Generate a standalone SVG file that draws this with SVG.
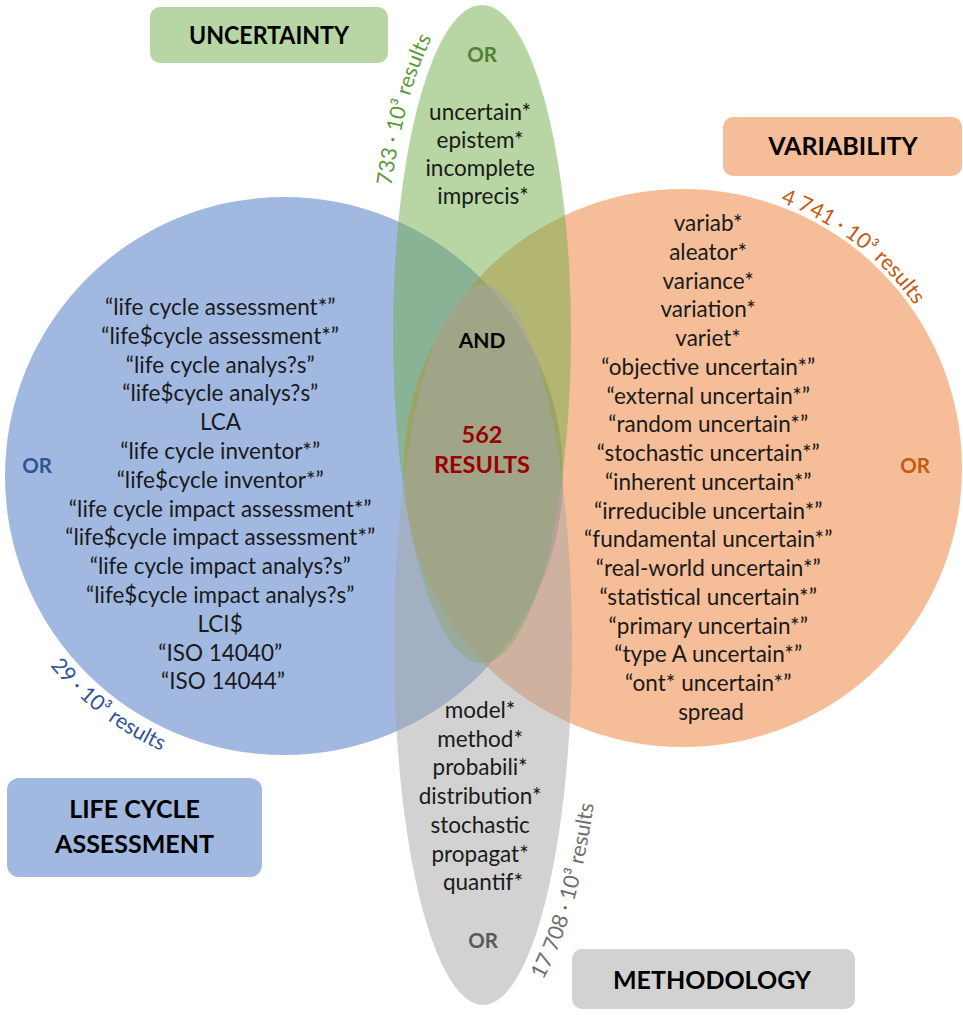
<svg xmlns="http://www.w3.org/2000/svg" xmlns:xlink="http://www.w3.org/1999/xlink" width="963" height="1017" viewBox="0 0 963 1017">
  <style>
    text { font-family: Lato, "Liberation Sans", sans-serif; }
    .set { fill-opacity: 0.5; }
    .blue { fill: #4472C4; }
    .orange { fill: #ED7D31; }
    .green { fill: #70AD47; }
    .grey { fill: #A5A5A5; }
    .title { font-weight: 700; font-size: 25px; text-anchor: middle; fill: #000; }
    .terms { font-size: 22.5px; text-anchor: middle; fill: #1a1a1a; }
    .or { font-weight: 700; font-size: 20.5px; text-anchor: middle; }
    .count { font-size: 21.5px; }
    .hit { font-weight: 700; font-size: 23.5px; text-anchor: middle; }
  </style>
  <defs>
    <!-- baselines for the result counts, following each set outline -->
    <path id="arc-lca" d="M 1.1 578.9 A 301 301 0 0 0 257.8 775.9"/>
    <path id="arc-var" d="M 732.1 189.3 A 283 283 0 0 1 939.5 348.4"/>
    <path id="arc-unc" d="M 391.4 186 A 101 342 0 0 1 482 -8"/>
    <path id="arc-met" d="M 543 980 A 122 388 0 0 0 605 645"/>
  </defs>

  <!-- sets -->
  <g id="set-lca"><circle class="set blue" cx="284" cy="476" r="279"/></g>
  <g id="set-variability"><circle class="set orange" cx="683" cy="468" r="279"/></g>
  <g id="set-uncertainty"><ellipse class="set green" cx="482" cy="334" rx="89" ry="329"/></g>
  <g id="set-methodology"><ellipse class="set grey" cx="483" cy="645" rx="89" ry="360"/></g>

  <!-- title boxes -->
  <g id="title-uncertainty">
    <rect class="set green" x="150" y="7" width="238" height="56" rx="10"/>
    <text class="title" x="269" y="44" textLength="160" lengthAdjust="spacingAndGlyphs">UNCERTAINTY</text>
  </g>
  <g id="title-variability">
    <rect class="set orange" x="723" y="117" width="239" height="59" rx="10"/>
    <text class="title" x="843" y="155">VARIABILITY</text>
  </g>
  <g id="title-lca">
    <rect class="set blue" x="7" y="778" width="255" height="99" rx="12"/>
    <text class="title" x="134.5" y="818">LIFE CYCLE</text>
    <text class="title" x="134.5" y="853">ASSESSMENT</text>
  </g>
  <g id="title-methodology">
    <rect class="set grey" x="572" y="949" width="283" height="60" rx="10"/>
    <text class="title" x="712" y="989">METHODOLOGY</text>
  </g>

  <!-- search terms -->
  <g id="terms-lca">
    <text class="or" x="37" y="473" fill="#2F5597">OR</text>
    <text class="terms">
      <tspan x="223" y="315">“life cycle assessment*”</tspan>
      <tspan x="223" dy="28.8">“life$cycle assessment*”</tspan>
      <tspan x="223" dy="28.8">“life cycle analys?s”</tspan>
      <tspan x="223" dy="28.8">“life$cycle analys?s”</tspan>
      <tspan x="223" dy="28.8">LCA</tspan>
      <tspan x="223" dy="28.8">“life cycle inventor*”</tspan>
      <tspan x="223" dy="28.8">“life$cycle inventor*”</tspan>
      <tspan x="223" dy="28.8">“life cycle impact assessment*”</tspan>
      <tspan x="223" dy="28.8">“life$cycle impact assessment*”</tspan>
      <tspan x="223" dy="28.8">“life cycle impact analys?s”</tspan>
      <tspan x="223" dy="28.8">“life$cycle impact analys?s”</tspan>
      <tspan x="223" dy="28.8">LCI$</tspan>
      <tspan x="223" dy="28.8">“ISO 14040”</tspan>
      <tspan x="223" dy="28.8">“ISO 14044”</tspan>
    </text>
    <text class="count" fill="#2F5597"><textPath xlink:href="#arc-lca" startOffset="50%" text-anchor="middle">29 · 10³ results</textPath></text>
  </g>

  <g id="terms-variability">
    <text class="or" x="915" y="473" fill="#C55A11">OR</text>
    <text class="terms">
      <tspan x="711" y="231">variab*</tspan>
      <tspan x="711" dy="28.76">aleator*</tspan>
      <tspan x="711" dy="28.76">variance*</tspan>
      <tspan x="711" dy="28.76">variation*</tspan>
      <tspan x="711" dy="28.76">variet*</tspan>
      <tspan x="711" dy="28.76">“objective uncertain*”</tspan>
      <tspan x="711" dy="28.76">“external uncertain*”</tspan>
      <tspan x="711" dy="28.76">“random uncertain*”</tspan>
      <tspan x="711" dy="28.76">“stochastic uncertain*”</tspan>
      <tspan x="711" dy="28.76">“inherent uncertain*”</tspan>
      <tspan x="711" dy="28.76">“irreducible uncertain*”</tspan>
      <tspan x="711" dy="28.76">“fundamental uncertain*”</tspan>
      <tspan x="711" dy="28.76">“real-world uncertain*”</tspan>
      <tspan x="711" dy="28.76">“statistical uncertain*”</tspan>
      <tspan x="711" dy="28.76">“primary uncertain*”</tspan>
      <tspan x="711" dy="28.76">“type A uncertain*”</tspan>
      <tspan x="711" dy="28.76">“ont* uncertain*”</tspan>
      <tspan x="711" dy="28.76">spread</tspan>
    </text>
    <text class="count" fill="#C55A11"><textPath xlink:href="#arc-var" startOffset="50%" text-anchor="middle">4 741 · 10³ results</textPath></text>
  </g>

  <g id="terms-uncertainty">
    <text class="or" x="482" y="62" fill="#548235">OR</text>
    <text class="terms">
      <tspan x="483" y="120">uncertain*</tspan>
      <tspan x="483" dy="28">epistem*</tspan>
      <tspan x="483" dy="28">incomplete</tspan>
      <tspan x="483" dy="28">imprecis*</tspan>
    </text>
    <text class="count" fill="#5B9A3A"><textPath xlink:href="#arc-unc">733 · 10³ results</textPath></text>
  </g>

  <g id="terms-methodology">
    <text class="terms">
      <tspan x="483" y="718">model*</tspan>
      <tspan x="483" dy="28.7">method*</tspan>
      <tspan x="483" dy="28.7">probabili*</tspan>
      <tspan x="483" dy="28.7">distribution*</tspan>
      <tspan x="483" dy="28.7">stochastic</tspan>
      <tspan x="483" dy="28.7">propagat*</tspan>
      <tspan x="483" dy="28.7">quantif*</tspan>
    </text>
    <text class="or" x="483" y="948" fill="#595959">OR</text>
    <text class="count" fill="#6F6F6F"><textPath xlink:href="#arc-met">17 708 · 10³ results</textPath></text>
  </g>

  <!-- intersection of all four sets -->
  <g id="intersection">
    <text class="hit" x="482" y="348" fill="#000" style="font-size:21px">AND</text>
    <text class="hit" x="482" y="443" fill="#990000">562</text>
    <text class="hit" x="482" y="473" fill="#990000">RESULTS</text>
  </g>
</svg>
